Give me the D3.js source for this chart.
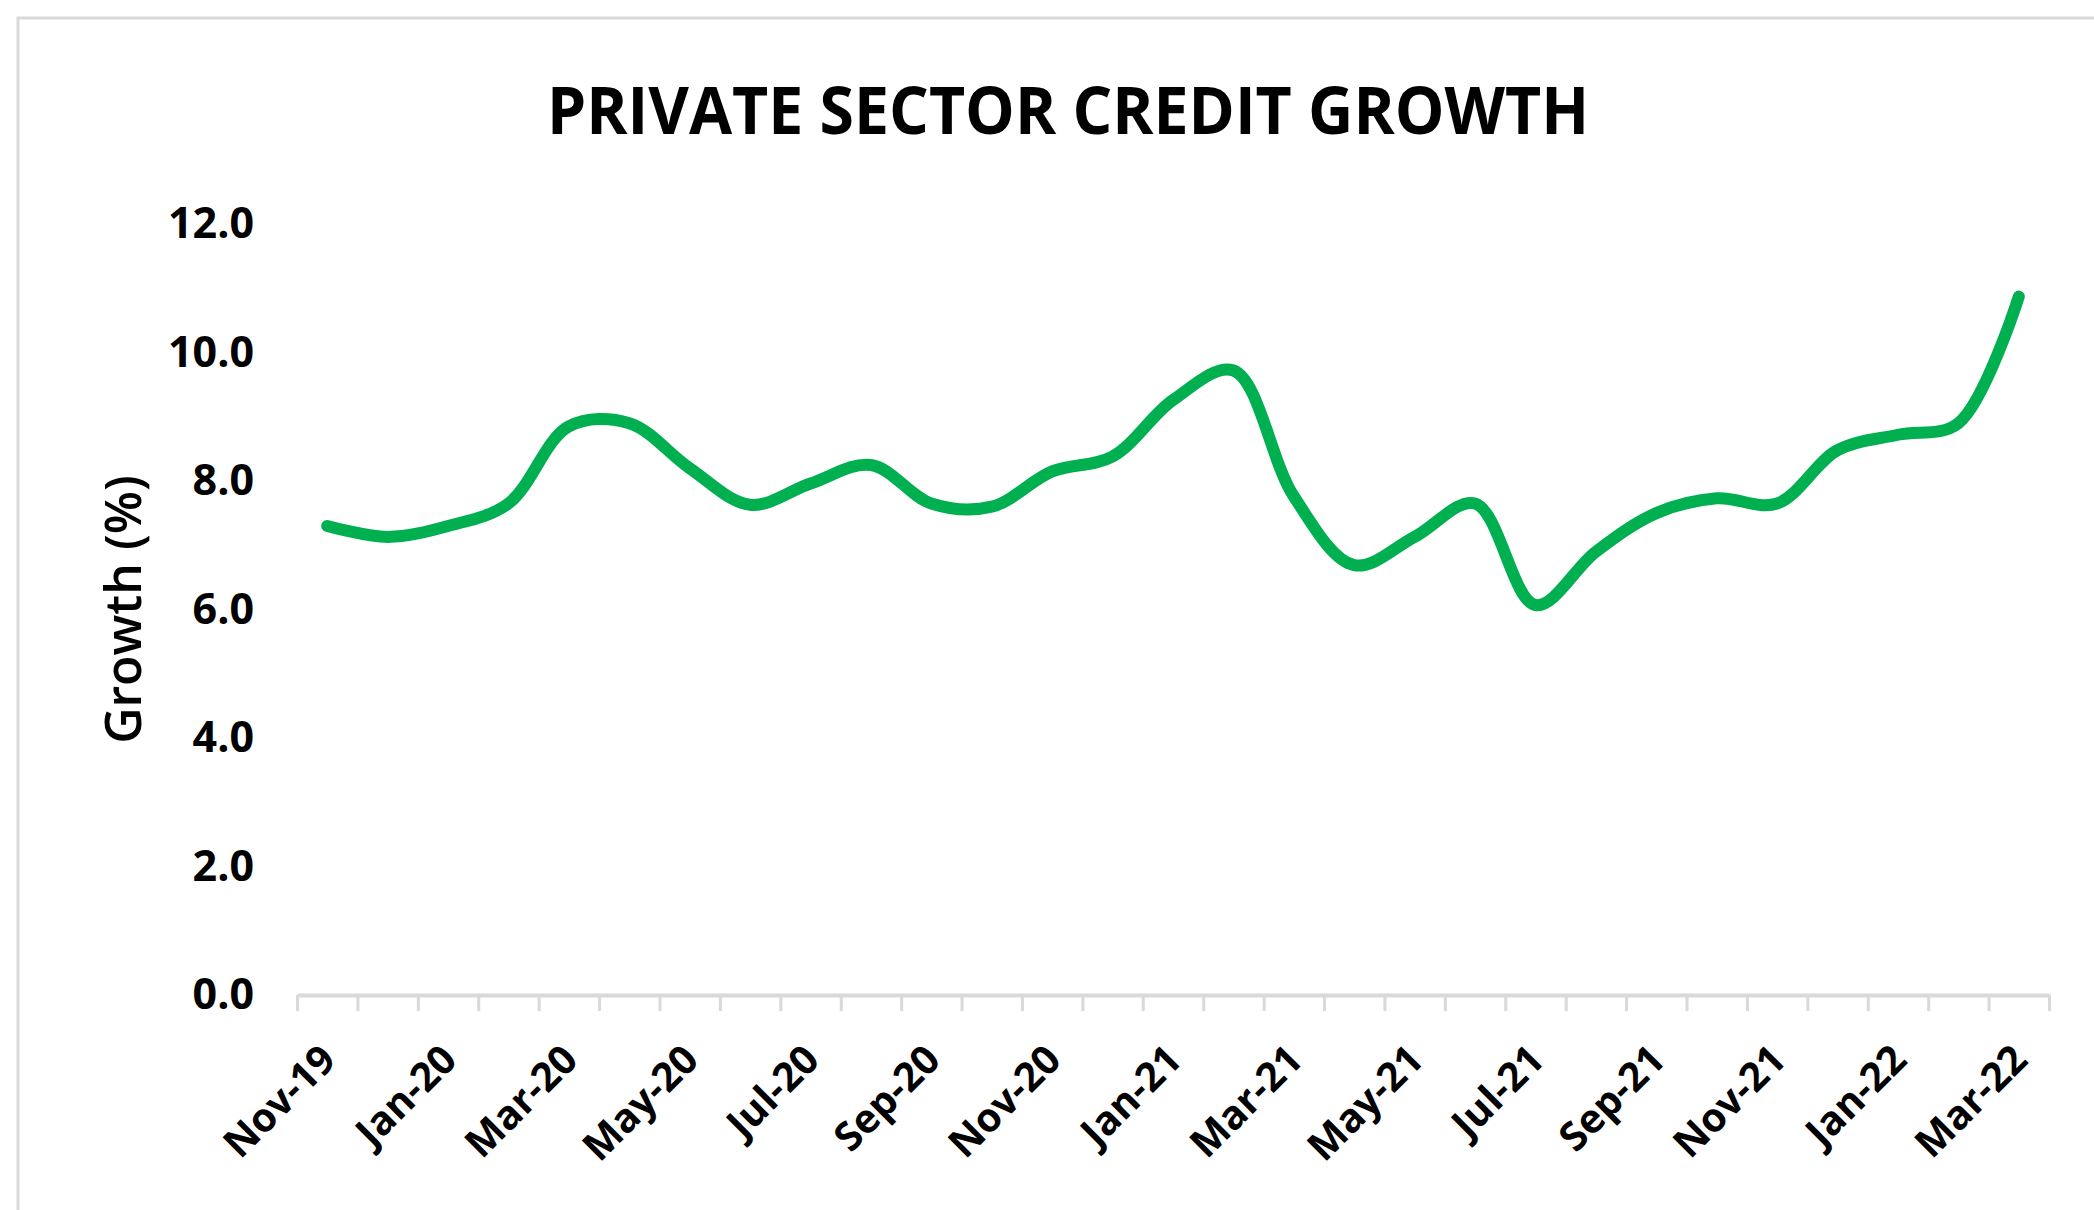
<!DOCTYPE html>
<html>
<head>
<meta charset="utf-8">
<script src="https://cdn.jsdelivr.net/npm/d3@7"></script>
<style>
    body { margin: 0; background: #fff; }
    text { font-family: "Open Sans", "DejaVu Sans", sans-serif; fill: #000; }
</style>
</head>
<body>
<div id="chart"></div>
<script>
const months = ["Nov-19", "Dec-19", "Jan-20", "Feb-20", "Mar-20", "Apr-20", "May-20", "Jun-20",
    "Jul-20", "Aug-20", "Sep-20", "Oct-20", "Nov-20", "Dec-20", "Jan-21", "Feb-21", "Mar-21",
    "Apr-21", "May-21", "Jun-21", "Jul-21", "Aug-21", "Sep-21", "Oct-21", "Nov-21", "Dec-21",
    "Jan-22", "Feb-22", "Mar-22"];

const growth = [7.3, 7.13, 7.3, 7.65, 8.85, 8.9, 8.2, 7.63,
    7.96, 8.25, 7.65, 7.6, 8.15, 8.38, 9.26, 9.72, 7.76,
    6.69, 7.13, 7.65, 6.07, 6.9, 7.5, 7.73, 7.65, 8.48,
    8.72, 8.9, 10.87];

const yTicks = [0, 2, 4, 6, 8, 10, 12];

const titleText = "PRIVATE SECTOR CREDIT GROWTH";
const yTitle = "Growth (%)";

const W = 2094, H = 1210;
const margin = { top: 224, right: 45, bottom: 215, left: 297 };
const width = W - margin.left - margin.right,
    height = H - margin.top - margin.bottom;

const root = d3.select("#chart").append("svg")
    .attr("width", W)
    .attr("height", H);

// chart frame (only top/left visible in the crop)
root.append("rect")
    .attr("x", 18).attr("y", 18)
    .attr("width", 2300).attr("height", 1400)
    .attr("fill", "none")
    .attr("stroke", "#d9d9d9")
    .attr("stroke-width", 3);

root.append("text")
    .attr("x", 1068)
    .attr("y", 134)
    .attr("text-anchor", "middle")
    .attr("font-size", 67)
    .attr("font-weight", 700)
    .attr("textLength", 1042)
    .attr("lengthAdjust", "spacingAndGlyphs")
    .text(titleText);

const svg = root.append("g")
    .attr("transform", "translate(" + margin.left + "," + margin.top + ")");

// categories sit between tick marks, like an Excel category axis
const x = d3.scaleLinear()
    .domain([0, months.length])
    .range([0, width]);

const y = d3.scaleLinear()
    .domain([0, 12])
    .range([height, 0]);

const xAxis = d3.axisBottom(x)
    .tickValues(d3.range(months.length + 1))
    .tickFormat("")
    .tickSize(16)
    .tickSizeOuter(0);

const xAxisElem = svg.append("g")
    .attr("transform", "translate(0," + height + ")")
    .call(xAxis);
xAxisElem.select(".domain").attr("stroke", "#d9d9d9").attr("stroke-width", 4);
xAxisElem.selectAll(".tick line").attr("stroke", "#d9d9d9").attr("stroke-width", 3);

svg.append("g").selectAll("text")
    .data(months.map((m, i) => ({ m, i })).filter(d => d.i % 2 === 0))
    .enter().append("text")
    .attr("transform", d => "translate(" + (x(d.i + 0.5) + 11) + "," + (height + 67) + ") rotate(-45)")
    .attr("text-anchor", "end")
    .attr("font-size", 40)
    .attr("font-weight", 700)
    .text(d => d.m);

const yAxis = d3.axisLeft(y)
    .tickValues(yTicks)
    .tickFormat(d3.format(".1f"))
    .tickSize(0)
    .tickPadding(43);

const yAxisElem = svg.append("g").call(yAxis);
yAxisElem.select(".domain").remove();
yAxisElem.selectAll("text")
    .attr("font-size", 43)
    .attr("font-weight", 700)
    .attr("font-family", "'Open Sans', sans-serif")
    .attr("fill", "#000");

root.append("text")
    .attr("transform", "translate(141," + (margin.top + height / 2) + ") rotate(-90)")
    .attr("text-anchor", "middle")
    .attr("font-size", 50)
    .attr("font-weight", 600)
    .text(yTitle);

const line = d3.line()
    .x((d, i) => x(i + 0.5))
    .y(d => y(d))
    .curve(d3.curveCatmullRom);

svg.append("path")
    .datum(growth)
    .attr("d", line)
    .attr("fill", "none")
    .attr("stroke", "#00b050")
    .attr("stroke-width", 12)
    .attr("stroke-linecap", "round")
    .attr("stroke-linejoin", "round");
</script>
</body>
</html>
